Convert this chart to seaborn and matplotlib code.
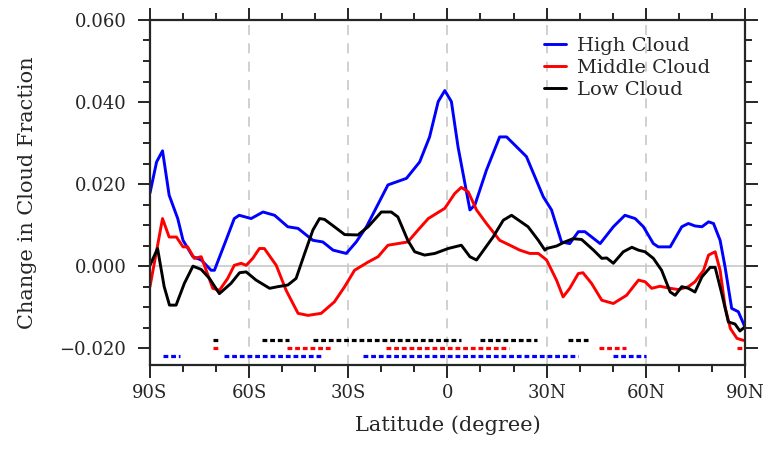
import matplotlib
matplotlib.use('Agg')
import matplotlib.pyplot as plt
import pandas as pd
import seaborn as sns

# High cloud change
high_lat = [-90, -88, -86.2, -84.2, -81.6, -80, -77, -74.5, -71.5, -70.5, -67, -64.5, -63,
            -59.4, -55.8, -52.3, -48.3, -45.2, -40.7, -37.7, -34.6, -30.6, -27.6, -24.5,
            -18, -12.4, -8.4, -5.4, -2.8, -0.8, 1.2, 3.2, 6.8, 8.3, 11.8, 15.8, 17.9, 23.9,
            29, 31.5, 34.5, 37, 39.6, 41.6, 46.2, 50.2, 53.7, 56.8, 59.3, 62.3, 63.8, 67.4,
            70.9, 72.9, 74.9, 77, 79, 80.5, 82.5, 84, 86, 88, 90]
high_val = [0.0178, 0.0254, 0.0281, 0.0173, 0.0116, 0.0063, 0.0023, 0.0015, -0.0010, -0.0010,
            0.0063, 0.0116, 0.0124, 0.0116, 0.0132, 0.0124, 0.0096, 0.0092, 0.0063, 0.0059,
            0.0039, 0.0031, 0.0059, 0.0096, 0.0198, 0.0214, 0.0254, 0.0315, 0.0401, 0.0428,
            0.0401, 0.0291, 0.0137, 0.0149, 0.0234, 0.0315, 0.0315, 0.0267, 0.0169, 0.0137,
            0.0059, 0.0055, 0.0084, 0.0084, 0.0055, 0.0096, 0.0124, 0.0116, 0.0096, 0.0055,
            0.0047, 0.0047, 0.0096, 0.0104, 0.0098, 0.0096, 0.0108, 0.0104, 0.0063, -0.0002,
            -0.0103, -0.0111, -0.0148]

# Middle cloud change
mid_lat = [-90, -86.2, -84.2, -82, -80, -78.6, -76.6, -74.5, -73, -71, -69, -66.5, -64.5,
           -62.4, -60.9, -58.9, -56.9, -55.4, -51.8, -48.8, -45.2, -42.2, -38.2, -34.2,
           -31.1, -28.1, -24, -21, -18, -15, -12, -8.9, -5.8, -0.8, 2.2, 4.2, 6.3, 8.8,
           11.8, 15.8, 18.9, 21.9, 24.9, 27.5, 30, 33, 35, 37, 39.6, 41, 43.6, 46.7, 50.2,
           54.2, 57.8, 59.8, 61.8, 64.3, 67.4, 69.9, 72.9, 74.9, 77.5, 79, 81, 82.5, 84,
           85.6, 87.6, 89.6]
mid_val = [-0.0050, 0.0116, 0.0071, 0.0071, 0.0047, 0.0047, 0.0019, 0.0023, -0.0010, -0.0054,
           -0.0059, -0.0030, 0.0002, 0.0007, 0.0002, 0.0019, 0.0043, 0.0043, 0.0002, -0.0059,
           -0.0115, -0.0120, -0.0115, -0.0087, -0.0050, -0.0010, 0.0010, 0.0023, 0.0051,
           0.0055, 0.0059, 0.0088, 0.0116, 0.0141, 0.0177, 0.0192, 0.0181, 0.0137, 0.0104,
           0.0063, 0.0051, 0.0039, 0.0031, 0.0031, 0.0015, -0.0034, -0.0075, -0.0054,
           -0.0018, -0.0016, -0.0042, -0.0083, -0.0091, -0.0071, -0.0034, -0.0038, -0.0054,
           -0.0049, -0.0054, -0.0057, -0.0050, -0.0038, -0.0010, 0.0027, 0.0035, -0.0010,
           -0.0099, -0.0152, -0.0176, -0.0181]

# Low cloud change
low_lat = [-90, -87.7, -85.7, -84.1, -82.1, -79.6, -77, -74.5, -72, -69, -65.5, -62.9, -60.9,
           -57.9, -53.8, -51.3, -48.3, -45.8, -43.2, -40.7, -38.7, -37.2, -34.2, -31.1,
           -27.1, -24, -20, -17, -15, -12, -9.9, -6.9, -3.8, 0.2, 4.2, 6.8, 8.8, 13.8, 16.9,
           19.4, 24.4, 27.5, 29.5, 30, 33, 35.5, 38, 40.6, 44.2, 46.7, 48.2, 50.2, 53.2,
           55.8, 57.8, 59.8, 62.3, 64.8, 67.4, 68.9, 70.9, 72.9, 74.9, 77, 79.5, 81, 83, 85,
           87, 88.5, 90]
low_val = [0.0002, 0.0043, -0.0050, -0.0095, -0.0095, -0.0042, 0.0000, -0.0008, -0.0030,
           -0.0067, -0.0042, -0.0016, -0.0014, -0.0034, -0.0054, -0.0050, -0.0046, -0.0030,
           0.0031, 0.0088, 0.0116, 0.0114, 0.0096, 0.0077, 0.0076, 0.0096, 0.0132, 0.0132,
           0.0120, 0.0063, 0.0035, 0.0027, 0.0031, 0.0043, 0.0051, 0.0023, 0.0015, 0.0071,
           0.0112, 0.0124, 0.0096, 0.0063, 0.0039, 0.0043, 0.0049, 0.0059, 0.0067, 0.0065,
           0.0039, 0.0019, 0.0020, 0.0007, 0.0035, 0.0046, 0.0039, 0.0035, 0.0019, -0.0010,
           -0.0063, -0.0071, -0.0050, -0.0054, -0.0063, -0.0026, -0.0003, -0.0003, -0.0067,
           -0.0136, -0.0141, -0.0158, -0.0148]

# significant latitude bands (start, end) for each cloud type
high_sig = [(-86, -81), (-67.5, -38), (-25.5, 39.5), (50, 60)]
mid_sig = [(-71, -69.5), (-48.5, -34.5), (-18.5, 18.5), (46, 54), (87.5, 89.5)]
low_sig = [(-71, -69.5), (-56, -48), (-40.7, 4.2), (10, 27), (36.5, 42.5)]
sig_y = {'High Cloud': -0.022, 'Middle Cloud': -0.020, 'Low Cloud': -0.018}

names = ['High Cloud', 'Middle Cloud', 'Low Cloud']
colors = ['blue', 'red', 'black']
xticks = [-90, -60, -30, 0, 30, 60, 90]
xticklabels = ['90S', '60S', '30S', '0', '30N', '60N', '90N']
yticks = [-0.02, 0.0, 0.02, 0.04, 0.06]

df = pd.concat([
    pd.DataFrame({'lat': high_lat, 'val': high_val, 'cloud': 'High Cloud'}),
    pd.DataFrame({'lat': mid_lat, 'val': mid_val, 'cloud': 'Middle Cloud'}),
    pd.DataFrame({'lat': low_lat, 'val': low_val, 'cloud': 'Low Cloud'}),
])

sns.set_style('ticks')
plt.rcParams['font.family'] = ['DejaVu Serif']

fig = plt.figure(figsize=(7.64, 4.49), dpi=100)
ax = fig.add_axes([0.1963, 0.187, 0.7787, 0.7685])

# grid lines
for x in xticks[1:-1]:
    ax.axvline(x, color='#c8c8c8', lw=1.2, ls=(0, (6, 5)), zorder=0)
ax.axhline(0, color='#c8c8c8', lw=1.2, zorder=0)

sns.lineplot(data=df, x='lat', y='val', hue='cloud', hue_order=names,
             palette=colors, estimator=None, lw=2.1, ax=ax)

# significance markers
for name, sig, c in zip(names, [high_sig, mid_sig, low_sig], colors):
    for a, b in sig:
        ax.hlines(sig_y[name], a, b, colors=c, lw=2.3, linestyles=(0, (1.5, 0.9)))

ax.set_xlim(-90, 90)
ax.set_ylim(-0.0241, 0.060)
ax.set_xticks(xticks)
ax.set_xticklabels(xticklabels)
ax.set_xticks(range(-80, 90, 10), minor=True)
ax.set_yticks(yticks)
ax.set_yticklabels([f'{v:.3f}'.replace('-', '\u2212') for v in yticks])
ax.set_yticks([v / 1000 for v in range(-20, 61, 5)], minor=True)

ax.tick_params(which='both', direction='out', top=True, right=True, width=1.4, labelsize=13)
ax.tick_params(which='major', length=9, pad=8)
ax.tick_params(axis='x', which='major', pad=5)
ax.tick_params(which='minor', length=5)
for s in ax.spines.values():
    s.set_linewidth(1.6)

ax.set_xlabel('Latitude (degree)', fontsize=15, labelpad=9)
ax.set_ylabel('Change in Cloud Fraction', fontsize=15, labelpad=16)

ax.legend(loc='upper left', bbox_to_anchor=(0.64, 0.99), frameon=False, fontsize=14,
          handlelength=1.1, handletextpad=0.6, labelspacing=0.2, borderpad=0.2)

fig.savefig('out.png', dpi=100)
